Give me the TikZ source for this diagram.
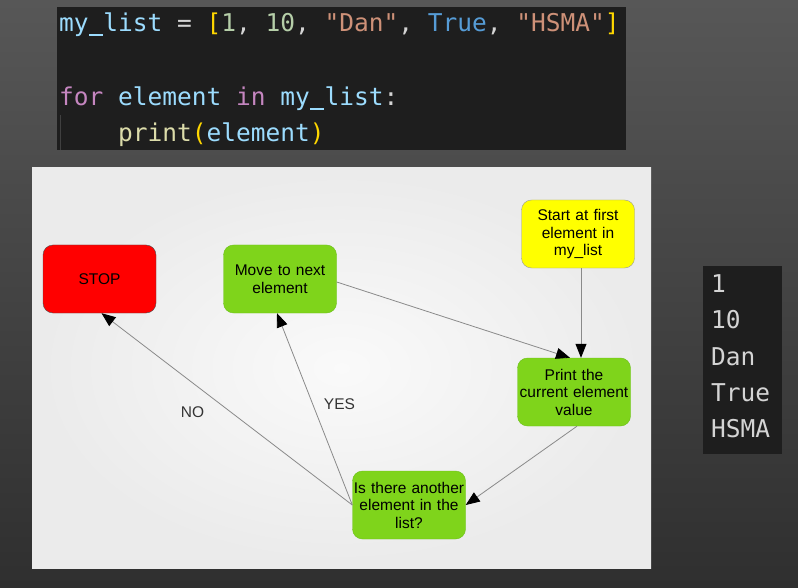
\documentclass[tikz,border=0pt]{standalone}
\usepackage{fontspec}
\usepackage{xcolor}
\usetikzlibrary{arrows.meta}
\setmainfont{Liberation Sans}
\newfontfamily\codefont{DejaVu Sans Mono}
% underscore as the editor shows it
\newcommand{\codeunder}{\makebox[0.602em][c]{\rule[-0.17em]{0.56em}{0.075em}}}

% editor colours
\definecolor{bgtop}{HTML}{575757}
\definecolor{bgbot}{HTML}{2F2F2F}
\definecolor{editor}{HTML}{1E1E1E}
\definecolor{cvar}{HTML}{9CDCFE}
\definecolor{cplain}{HTML}{D4D4D4}
\definecolor{cbrack}{HTML}{FFD700}
\definecolor{cnum}{HTML}{B5CEA8}
\definecolor{cstr}{HTML}{CE9178}
\definecolor{cconst}{HTML}{569CD6}
\definecolor{ckey}{HTML}{C586C0}
\definecolor{cfunc}{HTML}{DCDCAA}
% flowchart colours
\definecolor{boxgreen}{HTML}{7FD41B}
\definecolor{edgegreen}{HTML}{6BC01A}
\definecolor{boxred}{HTML}{FF0000}
\definecolor{boxyellow}{HTML}{FFFF00}
\definecolor{linkgray}{HTML}{8A8A8A}

\tikzset{
  codeline/.style={anchor=base west, inner sep=0pt, font=\codefont\fontsize{24.5}{28}\selectfont},
  flowbox/.style={rounded corners=10pt, minimum width=113pt, minimum height=68pt,
    inner sep=0pt, align=center, text width=113pt, font=\fontsize{15.5}{17.5}\selectfont},
  greenbox/.style={flowbox, fill=boxgreen, draw=edgegreen},
  link/.style={draw=linkgray, line width=0.8pt, -{Triangle[length=14pt,width=11pt,color=black]}},
  answer/.style={font=\fontsize{15.5}{17.5}\selectfont, text=black!80}
}

\begin{document}
\begin{tikzpicture}[x={(1pt,0)}, y={(0,-1pt)}]
  \useasboundingbox (0,0) rectangle (798,588);
  % Background
  \shade[top color=bgtop, bottom color=bgbot] (0,0) rectangle (798,588);

  % Code window
  \fill[editor] (57,7) rectangle (626,150);
  \draw[black!75, line width=1pt] (60,115) -- (60,150);
  \node[codeline] (line1) at (59,32) {\textcolor{cvar}{my\codeunder list} \textcolor{cplain}{=} \textcolor{cbrack}{[}\textcolor{cnum}{1}\textcolor{cplain}{,} \textcolor{cnum}{10}\textcolor{cplain}{,} \textcolor{cstr}{"Dan"}\textcolor{cplain}{,} \textcolor{cconst}{True}\textcolor{cplain}{,} \textcolor{cstr}{"HSMA"}\textcolor{cbrack}{]}};
  \node[codeline] (line3) at (59,106) {\textcolor{ckey}{for} \textcolor{cvar}{element} \textcolor{ckey}{in} \textcolor{cvar}{my\codeunder list}\textcolor{cplain}{:}};
  \node[codeline] (line4) at (118,142) {\textcolor{cfunc}{print}\textcolor{cbrack}{(}\textcolor{cvar}{element}\textcolor{cbrack}{)}};

  % Output window
  \fill[editor] (703,266) rectangle (782,454);
  \foreach \val [count=\i] in {1,10,Dan,True,HSMA}
    \node[codeline, text=cplain] (out\i) at (711,256.5+36.2*\i) {\val};

  % Flowchart panel
  \shade[inner color=white!98!black, outer color=black!8] (32,168) rectangle (651,568);

  % Boxes
  \node[flowbox, fill=boxred, draw=black!70] (stop) at (99.5,279) {STOP};
  \node[greenbox] (move) at (280,279) {Move to next\\element};
  \node[flowbox, fill=boxyellow, draw=black!40] (start) at (578,234) {Start at first\\element in\\my\_list};
  \node[greenbox] (print) at (574,392) {Print the\\current element\\value};
  \node[greenbox] (check) at (409,505) {Is there another\\element in the\\list?};

  % Links
  \draw[link] ([xshift=3pt]start.south) -- ([xshift=3pt]start.south |- print.north);
  \draw[link] ([yshift=-3pt]move.east) -- ([xshift=-4pt]print.north);
  \draw[link] ([xshift=3pt]print.south) -- (check.east);
  \draw[link] (check.west) -- ([xshift=2pt]stop.south);
  \draw[link] (check.west) -- ([xshift=-3pt]move.south);

  % Answers
  \node[answer] (no) at (192.5,412) {NO};
  \node[answer] (yes) at (339.5,404) {YES};
\end{tikzpicture}
\end{document}
